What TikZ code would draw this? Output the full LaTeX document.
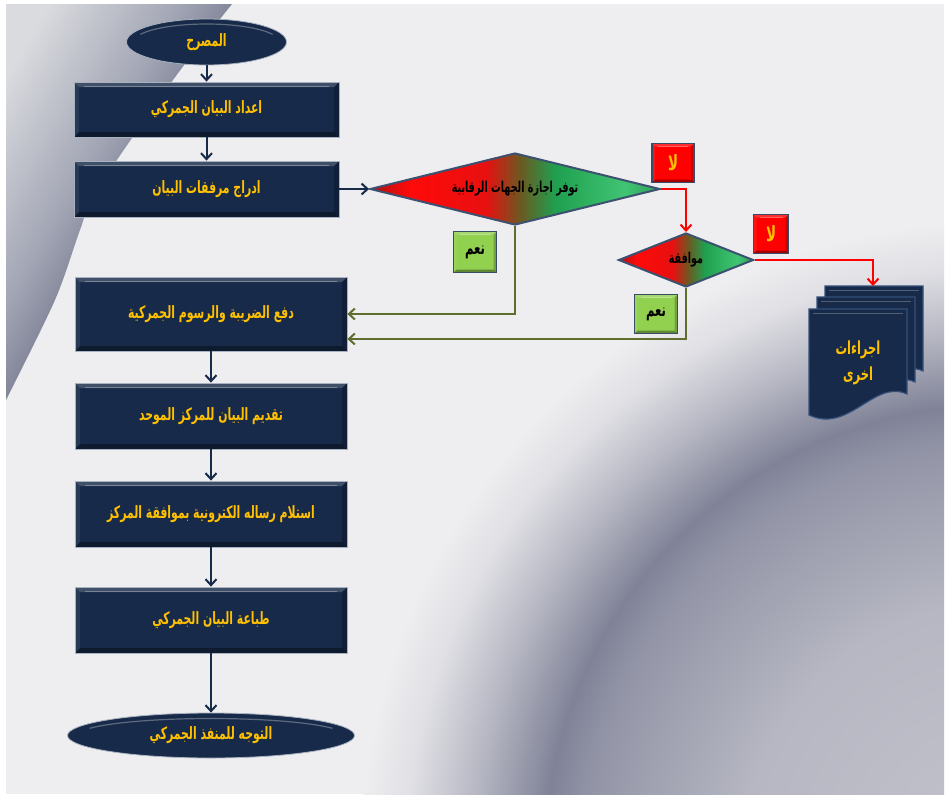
\documentclass[tikz,border=0pt]{standalone}
\usepackage{fontspec}
\usetikzlibrary{arrows.meta,shapes.geometric,calc}
\TeXXeTstate=1
\newfontfamily\arabicfont[Script=Arabic,FakeStretch=0.64]{DejaVu Sans}
\newcommand\artxt[1]{{\beginR#1\endR}}
\definecolor{navy}{HTML}{172A49}
\definecolor{navyedge}{HTML}{34507A}
\definecolor{boxedge}{HTML}{A9B2C0}
\definecolor{gold}{HTML}{FFC000}
\definecolor{olivearrow}{HTML}{5E6E2E}
\definecolor{diaedge}{HTML}{3C5170}
\definecolor{labedge}{HTML}{3A4D66}
\definecolor{yesgreen}{HTML}{92D050}
\definecolor{nored}{HTML}{FF0000}
\definecolor{bgbase}{HTML}{EEEEF0}
\definecolor{bgA}{HTML}{C2C3CC}
\definecolor{bgB}{HTML}{B6B7C2}
\definecolor{bgC}{HTML}{9496A8}
\definecolor{bgD}{HTML}{808398}
\definecolor{bgE}{HTML}{B4B5C1}
\definecolor{bgF}{HTML}{E0E0E5}
\definecolor{lgD}{HTML}{7C8094}
\definecolor{lgM}{HTML}{A2A5B4}
\definecolor{lgL}{HTML}{DADBDF}
\definecolor{dRa}{HTML}{B01010}
\definecolor{dRb}{HTML}{FF0A0A}
\definecolor{dRc}{HTML}{E81010}
\definecolor{dMid}{HTML}{6A5A22}
\definecolor{dGa}{HTML}{1FA050}
\definecolor{dGb}{HTML}{40C472}
\definecolor{dGc}{HTML}{2E9E5A}
\pgfdeclareradialshading{swoosh}{\pgfpoint{0bp}{0bp}}{color(0bp)=(bgA); color(10bp)=(bgB); color(16bp)=(bgC); color(17.8bp)=(bgD); color(20.5bp)=(bgE); color(23.2bp)=(bgF); color(25bp)=(bgbase); color(50bp)=(bgbase)}
\pgfdeclareverticalshading{leftgrey}{100bp}{color(0bp)=(lgD); color(48bp)=(lgD); color(58bp)=(lgM); color(78bp)=(lgL); color(100bp)=(lgL)}
\pgfdeclarehorizontalshading{redgreen}{100bp}{color(0bp)=(dRa); color(25bp)=(dRa); color(32bp)=(dRb); color(45bp)=(dRc); color(51bp)=(dMid); color(57bp)=(dGa); color(69bp)=(dGb); color(75bp)=(dGc); color(100bp)=(dGc)}
\begin{document}
\begin{tikzpicture}[x=1pt,y=-1pt,
  bevel/.style={path picture={
    \path (path picture bounding box.north west) coordinate (bA)
          (path picture bounding box.north east) coordinate (bB)
          (path picture bounding box.south east) coordinate (bC)
          (path picture bounding box.south west) coordinate (bD);
    \fill[white,opacity=.18] (bA) -- (bB) -- ($(bB)+(-#1pt,-#1pt)$) -- ($(bA)+(#1pt,-#1pt)$) -- cycle;
    \fill[black,opacity=.35] (bD) -- (bC) -- ($(bC)+(-#1pt,#1pt)$) -- ($(bD)+(#1pt,#1pt)$) -- cycle;
    \fill[white,opacity=.07] (bA) -- ($(bA)+(#1pt,-#1pt)$) -- ($(bD)+(#1pt,#1pt)$) -- (bD) -- cycle;
    \fill[black,opacity=.22] (bB) -- ($(bB)+(-#1pt,-#1pt)$) -- ($(bC)+(-#1pt,#1pt)$) -- (bC) -- cycle;
    \draw[white,opacity=.3,line width=1pt] ($(bA)+(2*#1pt,-0.9*#1pt)$) -- ($(bB)+(-2*#1pt,-0.9*#1pt)$);
  }},
  stepbox/.style={rectangle, draw=boxedge, line width=0.8pt, fill=navy, text=gold,
    font=\arabicfont\bfseries\fontsize{17}{19}\selectfont, bevel=5, inner sep=0pt},
  oval/.style={ellipse, draw=boxedge, line width=0.8pt, fill=navy, text=gold,
    font=\arabicfont\bfseries\fontsize{17}{19}\selectfont, inner sep=0pt},
  decision/.style={diamond, draw=diaedge, line width=2pt, shading=redgreen, text=black,
    font=\arabicfont\bfseries\fontsize{15}{17}\selectfont, inner sep=0pt},
  nolab/.style={rectangle, draw=labedge, line width=1.5pt, fill=nored, text=gold,
    font=\arabicfont\bfseries\fontsize{21}{22}\selectfont, bevel=3, inner sep=0pt},
  yeslab/.style={rectangle, draw=labedge, line width=1.5pt, fill=yesgreen, text=black,
    font=\arabicfont\bfseries\fontsize{18}{20}\selectfont, bevel=3, inner sep=0pt},
  navyarr/.style={draw=navy, line width=2pt, -{Straight Barb[length=6pt,width=11pt]}},
  redarr/.style={draw=red, line width=2pt, -{Straight Barb[length=6pt,width=11pt]}},
  olivearr/.style={draw=olivearrow, line width=2pt, -{Straight Barb[length=6pt,width=11pt]}},
  pagestyle/.style={fill=navy, draw=navyedge, line width=1.2pt},
  hilite/.style={white, opacity=.3, line width=1.2pt}
]
\useasboundingbox (0,0) rectangle (948,798);
\fill[white] (0,0) rectangle (948,798);
% background
\begin{scope}
  \clip (6,4) rectangle (944,794);
  \fill[bgbase] (6,4) rectangle (944,794);
  \shade[shading=swoosh] (1000,860) circle [radius=640pt];
  \shade[shading=leftgrey, shading angle=60] plot[smooth] coordinates {(232,4) (173,80) (97,190) (80,230) (55,300) (6,400)} -- (6,4) -- cycle;
\end{scope}

% main column
\node[oval, minimum width=160pt, minimum height=46pt] (start) at (206.5,42) {\artxt{المصرح}};
\draw[hilite] plot[domain=25:155,samples=30] ({206.5+73*cos(\x)},{42-18*sin(\x)});
\node[stepbox, minimum width=265pt, minimum height=55pt] (b1) at (206.5,109.5) {\artxt{اعداد البيان الجمركي}};
\node[stepbox, minimum width=265pt, minimum height=56pt] (b2) at (206.5,189) {\artxt{ادراج مرفقات البيان}};
\node[stepbox, minimum width=272pt, minimum height=74pt] (b3) at (211,314) {\artxt{دفع الضريبة والرسوم الجمركية}};
\node[stepbox, minimum width=272pt, minimum height=66pt] (b4) at (211,416) {\artxt{تقديم البيان للمركز الموحد}};
\node[stepbox, minimum width=272pt, minimum height=66pt] (b5) at (211,514) {\artxt{استلام رساله الكترونية بموافقة المركز}};
\node[stepbox, minimum width=272pt, minimum height=66pt] (b6) at (211,620) {\artxt{طباعة البيان الجمركي}};
\node[oval, minimum width=287pt, minimum height=45pt] (end) at (211,735.5) {\artxt{التوجه للمنفذ الجمركي}};
\draw[hilite] plot[domain=25:155,samples=40] ({211+134*cos(\x)},{735.5-17*sin(\x)});

% decisions
\node[decision, shape aspect=4.03, minimum width=290pt, minimum height=72pt] (d1) at (515,189) {\artxt{توفر اجازة الجهات الرقابية}};
\node[decision, shape aspect=2.5, minimum width=135pt, minimum height=54pt] (d2) at (686,260) {\artxt{موافقة}};

% labels
\node[nolab, minimum width=42pt, minimum height=39pt] (no1) at (673,163) {\artxt{لا}};
\node[nolab, minimum width=35pt, minimum height=39pt] (no2) at (771,234) {\artxt{لا}};
\node[yeslab, minimum width=43pt, minimum height=41pt] (yes1) at (475,252) {\artxt{نعم}};
\node[yeslab, minimum width=43pt, minimum height=39pt] (yes2) at (656,314) {\artxt{نعم}};

% document (stacked pages)
\foreach \X/\Y in {825/286, 817/297, 809/309} {
  \path[pagestyle] (\X,\Y) -- ({\X+98},\Y) -- ({\X+98},{\Y+85})
    .. controls ({\X+65},{\Y+70}) and ({\X+40},{\Y+125}) .. (\X,{\Y+106}) -- cycle;
  \draw[white,opacity=.25,line width=1pt] ({\X+4},{\Y+4}) -- ({\X+94},{\Y+4});
}
\coordinate (docTop) at (873,286);
\node[text=gold, font=\arabicfont\bfseries\fontsize{18}{26}\selectfont, align=center] (doctext) at (858,363) {\artxt{اجراءات}\\\artxt{اخرى}};

% connectors
\draw[navyarr] (start.south) -- (b1.north);
\draw[navyarr] (b1.south) -- (b2.north);
\draw[navyarr] (b2.east) -- (d1.west);
\draw[navyarr] (b3.south) -- (b4.north);
\draw[navyarr] (b4.south) -- (b5.north);
\draw[navyarr] (b5.south) -- (b6.north);
\draw[navyarr] (b6.south) -- (end.north);
\draw[redarr] (d1.east) -| (d2.north);
\draw[redarr] (d2.east) -| (docTop);
\draw[olivearr] (d1.south) |- (b3.east);
\draw[olivearr] (d2.south) |- ([yshift=-25pt]b3.east);
\end{tikzpicture}
\end{document}
